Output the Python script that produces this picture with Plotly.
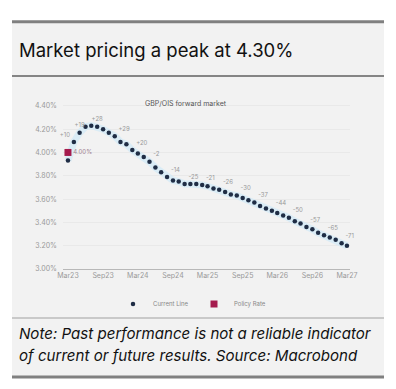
import pandas as pd
import plotly.graph_objects as go

# ---- data ----
months = pd.date_range("2023-03-01", "2027-03-01", freq="MS")
current_line = [3.93, 4.09, 4.17, 4.22, 4.23, 4.22, 4.20, 4.17, 4.14, 4.09,
                4.07, 4.02, 3.99, 3.96, 3.92, 3.87, 3.83, 3.79, 3.76, 3.75,
                3.73, 3.73, 3.73, 3.72, 3.71, 3.69, 3.68, 3.66, 3.64, 3.63,
                3.61, 3.59, 3.57, 3.54, 3.52, 3.50, 3.48, 3.46, 3.44, 3.41,
                3.39, 3.36, 3.34, 3.31, 3.29, 3.27, 3.25, 3.22, 3.20]
label_at = {1: "+10", 2: "+19", 5: "+28", 8: "+29", 11: "+20", 14: "-2",
            17: "-14", 20: "-25", 23: "-21", 26: "-26", 29: "-30", 32: "-37",
            35: "-44", 38: "-50", 41: "-57", 44: "-65", 47: "-71"}
point_labels = [label_at.get(i, "") for i in range(len(current_line))]
policy_x = ["2023-03-01"]
policy_y = [4.00]
policy_text = ["4.00%"]
tick_dates = pd.date_range("2023-03-01", "2027-03-01", freq="6MS")
tick_labels = ["Mar23", "Sep23", "Mar24", "Sep24", "Mar25", "Sep25", "Mar26", "Sep26", "Mar27"]
y_ticks = [3.0, 3.2, 3.4, 3.6, 3.8, 4.0, 4.2, 4.4]
y_ticklabels = ["3.00%", "3.20%", "3.40%", "3.60%", "3.80%", "4.00%", "4.20%", "4.40%"]

TITLE = "Market pricing a peak at 4.30%"
SUBTITLE = "GBP/OIS forward market"
NOTE1 = "Note: Past performance is not a reliable indicator"
NOTE2 = "of current or future results. Source: Macrobond"

# ---- layout geometry (pixels) ----
W, H = 396, 389
L, R, T, B = 63, 350, 100, 269


def px(x):
    return (x - L) / (R - L)


def py(y):
    return (B - y) / (B - T)


NAVY = "#1f2d45"
FONT = "Inter, Lato, sans-serif"


def label_position(i):
    if i == 1:
        return "top left"
    if i in (2, 5):
        return "top center"
    return "top right"


label_pos = [label_position(i) for i in range(len(current_line))]

fig = go.Figure()
fig.add_trace(go.Scatter(
    x=months, y=current_line, mode="lines",
    line=dict(color="rgba(210,234,247,0.75)", width=7),
    showlegend=False, hoverinfo="skip"))
fig.add_trace(go.Scatter(
    x=months, y=current_line, mode="markers+text", name="Current Line",
    marker=dict(color=NAVY, size=4.5, symbol="circle"),
    text=point_labels, textposition=label_pos, cliponaxis=False,
    textfont=dict(size=6, color="#999999", family=FONT)))
fig.add_trace(go.Scatter(
    x=policy_x, y=policy_y, mode="markers+text", name="Policy Rate",
    marker=dict(color="#a51c4e", size=7, symbol="square"),
    text=policy_text, textposition="middle right", cliponaxis=False,
    textfont=dict(size=6, color="#a08090", family=FONT)))

shapes = [
    dict(type="rect", xref="paper", yref="paper", x0=px(12), x1=px(384),
         y0=py(377), y1=py(22), fillcolor="#f2f2f2", line=dict(width=0), layer="below"),
    dict(type="line", xref="paper", yref="paper", x0=px(12), x1=px(384),
         y0=py(21.7), y1=py(21.7), line=dict(color="#808080", width=3)),
    dict(type="line", xref="paper", yref="paper", x0=px(12), x1=px(384),
         y0=py(76), y1=py(76), line=dict(color="#858585", width=2)),
    dict(type="line", xref="paper", yref="paper", x0=px(12), x1=px(384),
         y0=py(318), y1=py(318), line=dict(color="#a0a0a0", width=1)),
    dict(type="line", xref="paper", yref="paper", x0=px(12), x1=px(384),
         y0=py(377), y1=py(377), line=dict(color="#808080", width=3)),
]

annotations = [
    dict(text=TITLE, xref="paper", yref="paper", x=px(17), y=py(50),
         xanchor="left", yanchor="middle", showarrow=False,
         font=dict(size=18.5, color="#111111", family=FONT)),
    dict(text=SUBTITLE, xref="paper", yref="paper", x=px(186), y=py(103),
         xanchor="center", yanchor="middle", showarrow=False,
         font=dict(size=7, color="#555555", family=FONT)),
    dict(text="<i>" + NOTE1 + "</i>", xref="paper", yref="paper", x=px(17), y=py(333),
         xanchor="left", yanchor="middle", showarrow=False,
         font=dict(size=15.1, color="#111111", family=FONT)),
    dict(text="<i>" + NOTE2 + "</i>", xref="paper", yref="paper", x=px(17), y=py(355),
         xanchor="left", yanchor="middle", showarrow=False,
         font=dict(size=15.1, color="#111111", family=FONT)),
]

fig.update_layout(
    width=W, height=H,
    margin=dict(l=L, r=W - R, t=T, b=H - B, pad=0),
    paper_bgcolor="white", plot_bgcolor="rgba(0,0,0,0)",
    shapes=shapes, annotations=annotations,
    font=dict(family=FONT, color="#888888", size=7),
    legend=dict(orientation="h", x=px(194), y=py(304), xanchor="center", yanchor="middle",
                bgcolor="rgba(0,0,0,0)", font=dict(size=6, color="#888888"),
                itemwidth=30, entrywidth=36, entrywidthmode="pixels"),
    xaxis=dict(range=["2023-02-03", "2027-03-17"], tickvals=tick_dates, ticktext=tick_labels,
               showgrid=False, showline=True, linecolor="#b8b8b8", linewidth=1,
               ticks="", tickfont=dict(size=7, color="#999999"), zeroline=False),
    yaxis=dict(range=[3.0, 4.45], tickvals=y_ticks, ticktext=y_ticklabels,
               showgrid=True, gridcolor="#e9e9e9", gridwidth=1, zeroline=False,
               ticks="", ticklabelstandoff=5, tickfont=dict(size=7, color="#999999")),
)

fig.write_html("out.html", config={"displayModeBar": False},
               post_script="document.body.style.margin='0px';")
